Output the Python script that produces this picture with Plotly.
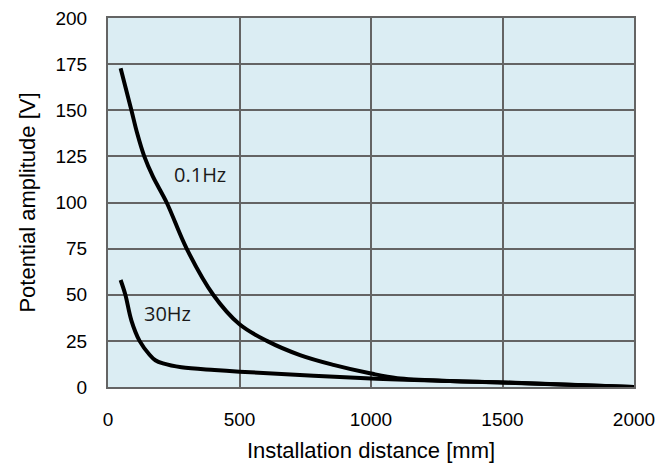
import plotly.graph_objects as go

# Values
dist_01hz = [48, 89, 111, 138, 171, 223, 299, 400, 500, 604, 730, 857, 1000, 1100, 1300, 1500, 2000]
amp_01hz = [172.7, 150, 137.5, 125, 114, 100, 75, 50, 34, 25, 17.3, 12, 7.3, 4.8, 3.3, 2.5, 0]

dist_30hz = [48, 66, 89, 120, 158, 180, 209, 279, 405, 500, 1000, 1300, 1500, 2000]
amp_30hz = [58, 50, 36, 25, 17.5, 14.5, 12.8, 10.7, 9.2, 8.3, 4.6, 3.2, 2.4, 0]

x_ticks = [0, 500, 1000, 1500, 2000]
y_ticks = [0, 25, 50, 75, 100, 125, 150, 175, 200]

labels = ["0.1Hz", "30Hz"]
label_x = [349, 228]
label_y = [115, 40]

GRID = "#646464"

fig = go.Figure()

for xs, ys in [(dist_01hz, amp_01hz), (dist_30hz, amp_30hz)]:
    fig.add_trace(go.Scatter(
        x=xs, y=ys,
        mode="lines",
        line=dict(color="black", width=4, shape="spline", smoothing=1.0),
        showlegend=False,
        hoverinfo="skip"
    ))

for text, lx, ly in zip(labels, label_x, label_y):
    fig.add_annotation(
        x=lx, y=ly, text=text, showarrow=False,
        font=dict(family="Open Sans, Noto Sans, sans-serif", size=20, color="#1a1a1a")
    )

fig.update_layout(
    width=672,
    height=468,
    margin=dict(l=108, r=38, t=18, b=81),
    paper_bgcolor="white",
    plot_bgcolor="#dbedf3",
    font=dict(family="Liberation Sans, Arial, sans-serif", size=19, color="black"),
)

fig.update_xaxes(
    range=[0, 2000],
    tickvals=x_ticks,
    ticks="",
    ticklabelstandoff=14,
    automargin=False,
    showgrid=True, gridcolor=GRID, gridwidth=2,
    showline=True, linecolor=GRID, linewidth=2, mirror=True,
    zeroline=False,
    title=dict(text="Installation distance [mm]", font=dict(size=22), standoff=14),
)

fig.update_yaxes(
    range=[0, 200],
    tickvals=y_ticks,
    ticks="",
    ticklabelstandoff=15,
    automargin=False,
    showgrid=True, gridcolor=GRID, gridwidth=2,
    showline=True, linecolor=GRID, linewidth=2, mirror=True,
    zeroline=False,
    title=dict(text="Potential amplitude [V]", font=dict(size=22), standoff=14),
)

fig.write_html("out.html", config={"displayModeBar": False},
               post_script="document.body.style.margin='0';")
